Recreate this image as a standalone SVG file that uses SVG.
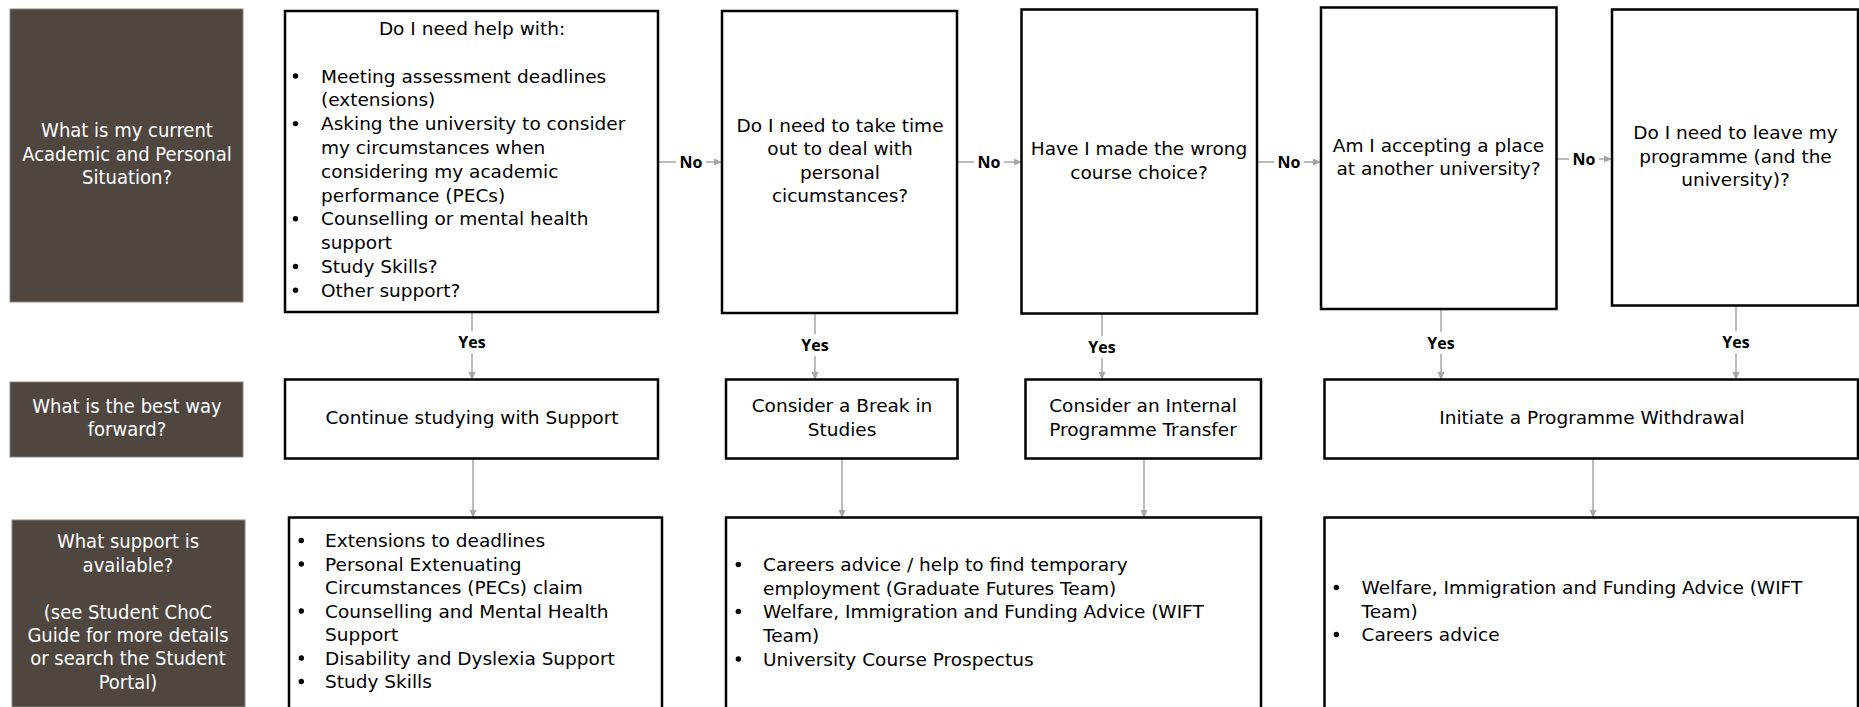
<svg xmlns="http://www.w3.org/2000/svg" width="1859" height="707" viewBox="0 0 1859 707">
<style>
.dark{fill:#4e463f;stroke:#8a8580;stroke-width:1}
.box{fill:#ffffff;stroke:#000000;stroke-width:2.5}
.dt{font-family:"DejaVu Sans Condensed","DejaVu Sans","Liberation Sans",sans-serif;font-stretch:condensed;font-size:20px;fill:#ffffff;text-anchor:middle}
.t{font-family:"DejaVu Sans","Liberation Sans",sans-serif;font-size:18.5px;fill:#000000}
.c{text-anchor:middle}
.lbl{font-family:"Open Sans","Liberation Sans",sans-serif;font-size:16px;font-weight:bold;fill:#000000;text-anchor:middle}
.con{stroke:#a6a6a6;stroke-width:1.5;fill:none;marker-end:url(#ah)}
.bul{fill:#000000}
</style>
<defs>
<marker id="ah" markerWidth="8" markerHeight="8" refX="7" refY="4" orient="auto" markerUnits="userSpaceOnUse">
<path d="M0,0.5 L8,4 L0,7.5 Z" fill="#a6a6a6"/>
</marker>
</defs>
<rect width="1859" height="707" fill="#ffffff"/>

<g id="connectors">
<line class="con" x1="658" y1="162" x2="721" y2="162"/>
<line class="con" x1="957" y1="162" x2="1021" y2="162"/>
<line class="con" x1="1257" y1="162" x2="1320" y2="162"/>
<line class="con" x1="1557" y1="159" x2="1611" y2="159"/>
<line class="con" x1="472" y1="312" x2="472" y2="379"/>
<line class="con" x1="815" y1="313" x2="815" y2="379"/>
<line class="con" x1="1102" y1="314" x2="1102" y2="379"/>
<line class="con" x1="1441" y1="309" x2="1441" y2="379"/>
<line class="con" x1="1736" y1="306" x2="1736" y2="379"/>
<line class="con" x1="473" y1="459" x2="473" y2="517"/>
<line class="con" x1="842" y1="459" x2="842" y2="517"/>
<line class="con" x1="1144" y1="459" x2="1144" y2="517"/>
<line class="con" x1="1593" y1="459" x2="1593" y2="517"/>
<rect x="676" y="150" width="30" height="22" fill="#ffffff"/>
<text class="lbl" x="691" y="168">No</text>
<rect x="974" y="150" width="30" height="22" fill="#ffffff"/>
<text class="lbl" x="989" y="168">No</text>
<rect x="1274" y="150" width="30" height="22" fill="#ffffff"/>
<text class="lbl" x="1289" y="168">No</text>
<rect x="1569" y="147" width="30" height="22" fill="#ffffff"/>
<text class="lbl" x="1584" y="165">No</text>
<rect x="456" y="331" width="32" height="22" fill="#ffffff"/>
<text class="lbl" x="472" y="348">Yes</text>
<rect x="799" y="334" width="32" height="22" fill="#ffffff"/>
<text class="lbl" x="815" y="351">Yes</text>
<rect x="1086" y="336" width="32" height="22" fill="#ffffff"/>
<text class="lbl" x="1102" y="353">Yes</text>
<rect x="1425" y="332" width="32" height="22" fill="#ffffff"/>
<text class="lbl" x="1441" y="349">Yes</text>
<rect x="1720" y="331" width="32" height="22" fill="#ffffff"/>
<text class="lbl" x="1736" y="348">Yes</text>
</g>

<g id="row1-header">
<rect class="dark" x="10" y="9" width="233" height="293"/>
<text class="dt" x="127" y="137">What is my current</text>
<text class="dt" x="127" y="160.5">Academic and Personal</text>
<text class="dt" x="127" y="184">Situation?</text>
</g>

<g id="row2-header">
<rect class="dark" x="10" y="382" width="233" height="75"/>
<text class="dt" x="127" y="412.5">What is the best way</text>
<text class="dt" x="127" y="436">forward?</text>
</g>

<g id="row3-header">
<rect class="dark" x="12" y="520" width="233" height="187"/>
<text class="dt" x="128" y="548">What support is</text>
<text class="dt" x="128" y="571.5">available?</text>
<text class="dt" x="128" y="618.5">(see Student ChoC</text>
<text class="dt" x="128" y="642">Guide for more details</text>
<text class="dt" x="128" y="665">or search the Student</text>
<text class="dt" x="128" y="688.5">Portal)</text>
</g>

<g id="q1">
<rect class="box" x="285" y="11" width="373" height="301"/>
<text class="t c" x="472" y="35">Do I need help with:</text>
<g class="bul">
<circle cx="295.5" cy="76" r="2.7"/>
<circle cx="295.5" cy="123.6" r="2.7"/>
<circle cx="295.5" cy="218.8" r="2.7"/>
<circle cx="295.5" cy="266.4" r="2.7"/>
<circle cx="295.5" cy="290.2" r="2.7"/>
</g>
<g class="t">
<text x="321" y="82.5">Meeting assessment deadlines</text>
<text x="321" y="106.3">(extensions)</text>
<text x="321" y="130.1">Asking the university to consider</text>
<text x="321" y="153.9">my circumstances when</text>
<text x="321" y="177.7">considering my academic</text>
<text x="321" y="201.5">performance (PECs)</text>
<text x="321" y="225.3">Counselling or mental health</text>
<text x="321" y="249.1">support</text>
<text x="321" y="272.9">Study Skills?</text>
<text x="321" y="296.7">Other support?</text>
</g>
</g>

<g id="q2">
<rect class="box" x="722" y="11" width="235" height="302"/>
<text class="t c" x="840" y="131.5">Do I need to take time</text>
<text class="t c" x="840" y="155">out to deal with</text>
<text class="t c" x="840" y="178.5">personal</text>
<text class="t c" x="840" y="202">cicumstances?</text>
</g>

<g id="q3">
<rect class="box" x="1021.5" y="9.5" width="235.5" height="304"/>
<text class="t c" x="1139" y="155">Have I made the wrong</text>
<text class="t c" x="1139" y="178.5">course choice?</text>
</g>

<g id="q4">
<rect class="box" x="1321" y="7.5" width="235.5" height="301.5"/>
<text class="t c" x="1438.5" y="151.5">Am I accepting a place</text>
<text class="t c" x="1438.5" y="175">at another university?</text>
</g>

<g id="q5">
<rect class="box" x="1612" y="9.5" width="246" height="296"/>
<text class="t c" x="1735.5" y="138.5">Do I need to leave my</text>
<text class="t c" x="1735.5" y="162.5">programme (and the</text>
<text class="t c" x="1735.5" y="186">university)?</text>
</g>

<g id="continue">
<rect class="box" x="285" y="379.5" width="373" height="79"/>
<text class="t c" x="472" y="424">Continue studying with Support</text>
</g>

<g id="break">
<rect class="box" x="726" y="379.5" width="231.5" height="79"/>
<text class="t c" x="842" y="412">Consider a Break in</text>
<text class="t c" x="842" y="435.5">Studies</text>
</g>

<g id="transfer">
<rect class="box" x="1025.5" y="379.5" width="235.5" height="79"/>
<text class="t c" x="1143" y="412">Consider an Internal</text>
<text class="t c" x="1143" y="435.5">Programme Transfer</text>
</g>

<g id="withdrawal">
<rect class="box" x="1324.5" y="379.5" width="533.5" height="79"/>
<text class="t c" x="1592" y="424">Initiate a Programme Withdrawal</text>
</g>

<g id="support1">
<rect class="box" x="289" y="517.5" width="373" height="192"/>
<g class="bul">
<circle cx="301.3" cy="540.5" r="2.7"/>
<circle cx="301.3" cy="564" r="2.7"/>
<circle cx="301.3" cy="611" r="2.7"/>
<circle cx="301.3" cy="658" r="2.7"/>
<circle cx="301.3" cy="681.5" r="2.7"/>
</g>
<g class="t">
<text x="325" y="547">Extensions to deadlines</text>
<text x="325" y="570.5">Personal Extenuating</text>
<text x="325" y="594">Circumstances (PECs) claim</text>
<text x="325" y="617.5">Counselling and Mental Health</text>
<text x="325" y="641">Support</text>
<text x="325" y="664.5">Disability and Dyslexia Support</text>
<text x="325" y="688">Study Skills</text>
</g>
</g>

<g id="support2">
<rect class="box" x="726" y="517.5" width="535" height="192"/>
<g class="bul">
<circle cx="738.3" cy="564.5" r="2.7"/>
<circle cx="738.3" cy="611.5" r="2.7"/>
<circle cx="738.3" cy="659" r="2.7"/>
</g>
<g class="t">
<text x="763" y="571">Careers advice / help to find temporary</text>
<text x="763" y="594.5">employment (Graduate Futures Team)</text>
<text x="763" y="618">Welfare, Immigration and Funding Advice (WIFT</text>
<text x="763" y="641.5">Team)</text>
<text x="763" y="665.5">University Course Prospectus</text>
</g>
</g>

<g id="support3">
<rect class="box" x="1324.5" y="517.5" width="533.5" height="192"/>
<g class="bul">
<circle cx="1336.4" cy="587.5" r="2.7"/>
<circle cx="1336.4" cy="634.5" r="2.7"/>
</g>
<g class="t">
<text x="1361.5" y="594">Welfare, Immigration and Funding Advice (WIFT</text>
<text x="1361.5" y="617.5">Team)</text>
<text x="1361.5" y="641">Careers advice</text>
</g>
</g>
</svg>
